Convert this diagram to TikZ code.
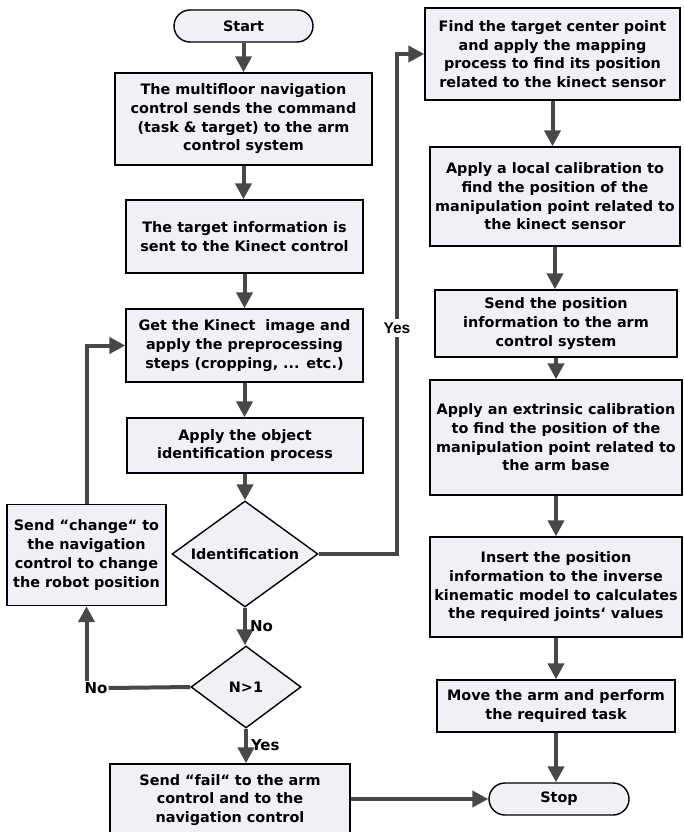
\documentclass[tikz,border=0pt]{standalone}
\usepackage{fontspec}
\setmainfont{DejaVu Sans}
\usetikzlibrary{shapes.geometric,arrows.meta}
\definecolor{boxfill}{RGB}{241,240,246}
\definecolor{arrowgray}{RGB}{72,72,72}
\tikzset{
  box/.style={draw=black, line width=1.4pt, fill=boxfill, align=center, inner sep=0pt,
    font=\bfseries\fontsize{14.4}{18.7}\selectfont},
  pill/.style={box, rounded corners=16pt},
  decision/.style={box, shape=diamond, aspect=1.4},
  flow/.style={draw=arrowgray, line width=4pt, -{Triangle[length=16pt,width=16pt]}},
  plainline/.style={draw=arrowgray, line width=4pt},
  lab/.style={font=\bfseries\fontsize{15}{16}\selectfont, inner sep=1pt},
}
\begin{document}
\begin{tikzpicture}[x=1pt,y=-1pt]
\useasboundingbox (0,0) rectangle (683,832);
% left column
\node[pill, minimum width=139pt, minimum height=32pt] (start) at (243.5,26) {Start};
\node[box, minimum width=257pt, minimum height=92pt] (b1) at (243.5,119)
  {The multifloor navigation\\control sends the command\\(task \& target) to the arm\\control system};
\node[box, minimum width=237pt, minimum height=73pt] (b2) at (244.5,236.5)
  {The target information is\\sent to the Kinect control};
\node[box, minimum width=237pt, minimum height=73pt] (b3) at (244.5,345.5)
  {Get the Kinect\ \ image and\\apply the preprocessing\\steps (cropping, ... etc.)};
\node[box, minimum width=236pt, minimum height=55pt] (b4) at (245,445.5)
  {Apply the object\\identification process};
\node[decision, minimum width=146pt, minimum height=106pt] (ident) at (245,554) {Identification};
\node[decision, minimum width=110pt, minimum height=82pt] (n1) at (246,687) {N>1};
\node[box, minimum width=159pt, minimum height=101pt] (change) at (86.5,555)
  {Send “change“ to\\the navigation\\control to change\\the robot position};
\node[box, minimum width=240pt, minimum height=72pt] (fail) at (230,800)
  {Send “fail“ to the arm\\control and to the\\navigation control};
% right column
\node[box, minimum width=255pt, minimum height=92pt] (r1) at (552.5,54)
  {Find the target center point\\and apply the mapping\\process to find its position\\related to the kinect sensor};
\node[box, minimum width=250pt, minimum height=99pt] (r2) at (555,196.5)
  {Apply a local calibration to\\find the position of the\\manipulation point related to\\the kinect sensor};
\node[box, minimum width=242pt, minimum height=67pt] (r3) at (556,323.5)
  {Send the position\\information to the arm\\control system};
\node[box, minimum width=252pt, minimum height=115pt] (r4) at (556,437.5)
  {Apply an extrinsic calibration\\to find the position of the\\manipulation point related to\\the arm base};
\node[box, minimum width=252pt, minimum height=100pt] (r5) at (556,587)
  {Insert the position\\information to the inverse\\kinematic model to calculates\\the required joints‘ values};
\node[box, minimum width=238pt, minimum height=52pt] (r6) at (556,706)
  {Move the arm and perform\\the required task};
\node[pill, minimum width=140pt, minimum height=32pt] (stop) at (559,799) {Stop};
% labels
\node[lab] (nolab) at (96,688) {No};
% connectors left
\draw[flow] (start.south) -- (start.south |- b1.north);
\draw[flow] (b1.south) -- (b1.south |- b2.north);
\draw[flow] (b2.south) -- (b2.south |- b3.north);
\draw[flow] (b3.south) -- (b3.south |- b4.north);
\draw[flow] (b4.south) -- (b4.south |- ident.north);
\draw[flow] (ident.south) -- (ident.south |- n1.north) node[lab, midway, right=2pt] {No};
\draw[flow] (n1.south) -- (n1.south |- fail.north) node[lab, midway, right=2pt, yshift=1pt] {Yes};
\draw[plainline] (n1.west) -- (nolab.east);
\draw[flow] (change.south |- nolab.north) -- (change.south);
\draw[flow] (change.north) -- (change.north |- b3.west) -- (b3.west);
\draw[flow] (fail.east |- stop.west) -- (stop.west);
\draw[flow] (ident.east) -- (397,554) -- (397,54) -- (r1.west);
\node[lab, fill=white, inner ysep=4pt, font=\bfseries\fontsize{15.5}{16}\selectfont\fontspec{Liberation Sans}] at (397,328) {Yes};
% connectors right
\draw[flow] (r1.south) -- (r1.south |- r2.north);
\draw[flow] (r2.south) -- (r2.south |- r3.north);
\draw[flow] (r3.south) -- (r3.south |- r4.north);
\draw[flow] (r4.south) -- (r4.south |- r5.north);
\draw[flow] (r5.south) -- (r5.south |- r6.north);
\draw[flow] (r6.south) -- (r6.south |- stop.north);
\end{tikzpicture}
\end{document}
